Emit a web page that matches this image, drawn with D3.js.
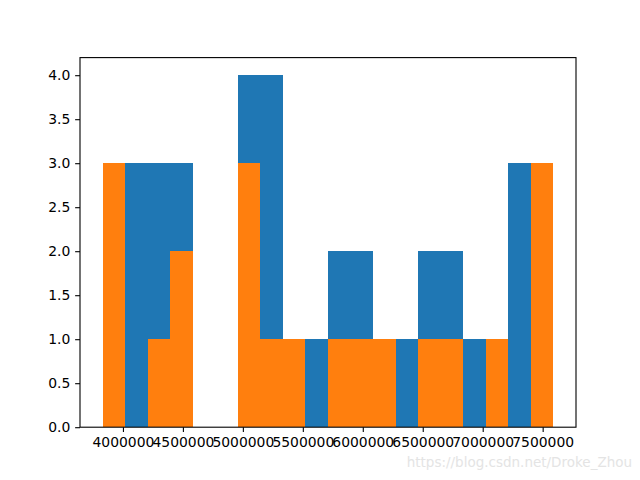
<!DOCTYPE html>
<html>
<head>
<meta charset="utf-8">
<script src="https://cdn.jsdelivr.net/npm/d3@7"></script>
<style>
html,body{margin:0;padding:0;background:#fff;}
svg{display:block;}
</style>
</head>
<body>
<svg id="chart" width="640" height="480"></svg>
<script>
// Shared histogram bin edges
const binEdges = [3830000, 4018000, 4206000, 4394000, 4582000, 4770000, 4958000, 5146000,
  5334000, 5522000, 5710000, 5898000, 6086000, 6274000, 6462000, 6650000, 6838000,
  7026000, 7214000, 7402000, 7590000];
// Counts per bin
const blueCounts   = [0, 3, 3, 3, 0, 0, 4, 4, 1, 1, 2, 2, 1, 1, 2, 2, 1, 1, 3, 0];
const orangeCounts = [3, 0, 1, 2, 0, 0, 3, 1, 1, 0, 1, 1, 1, 0, 1, 1, 0, 1, 0, 3];
const xTicks = [4000000, 4500000, 5000000, 5500000, 6000000, 6500000, 7000000, 7500000];
const yTicks = [0, 0.5, 1, 1.5, 2, 2.5, 3, 3.5, 4];
const seriesColors = ["#1f77b4", "#ff7f0e"];
const watermark = "https://blog.csdn.net/Droke_Zhou";

const svg = d3.select("#chart");
const L = 80, R = 576, T = 57.6, B = 427.2;

const xMin = binEdges[0], xMax = binEdges[binEdges.length - 1];
const pad = (xMax - xMin) * 0.05;
const x = d3.scaleLinear().domain([xMin - pad, xMax + pad]).range([L, R]);
const yMaxData = d3.max([...blueCounts, ...orangeCounts]);
const y = d3.scaleLinear().domain([0, yMaxData * 1.05]).range([B, T]);

const series = [blueCounts, orangeCounts];
series.forEach((counts, si) => {
  svg.append("g").selectAll("rect")
    .data(counts.map((c, i) => ({c, x0: binEdges[i], x1: binEdges[i + 1]})).filter(d => d.c > 0))
    .join("rect")
    .attr("x", d => x(d.x0))
    .attr("width", d => x(d.x1) - x(d.x0))
    .attr("y", d => y(d.c))
    .attr("height", d => y(0) - y(d.c))
    .attr("fill", seriesColors[si])
    .attr("shape-rendering", "crispEdges");
});

const font = "'DejaVu Sans', sans-serif";
const xAxis = svg.append("g").attr("transform", `translate(0,${B})`)
  .call(d3.axisBottom(x).tickValues(xTicks).tickFormat(d3.format("d")).tickSize(4.86).tickPadding(4.86));
const yAxis = svg.append("g").attr("transform", `translate(${L},0)`)
  .call(d3.axisLeft(y).tickValues(yTicks).tickFormat(d3.format(".1f")).tickSize(4.86).tickPadding(4.86));
[xAxis, yAxis].forEach(a => {
  a.select(".domain").remove();
  a.selectAll("text").attr("font-family", font).attr("font-size", "13.9px").attr("fill", "#000");
  a.selectAll("line").attr("stroke", "#000").attr("stroke-width", 1.1);
});

svg.append("rect").attr("x", L).attr("y", T).attr("width", R - L).attr("height", B - T)
  .attr("fill", "none").attr("stroke", "#000").attr("stroke-width", 1.1);

svg.append("text").attr("x", 632).attr("y", 467).attr("text-anchor", "end")
  .attr("font-family", font).attr("font-size", "13.5px").attr("fill", "#e4e4e4")
  .text(watermark);
</script>
</body>
</html>
